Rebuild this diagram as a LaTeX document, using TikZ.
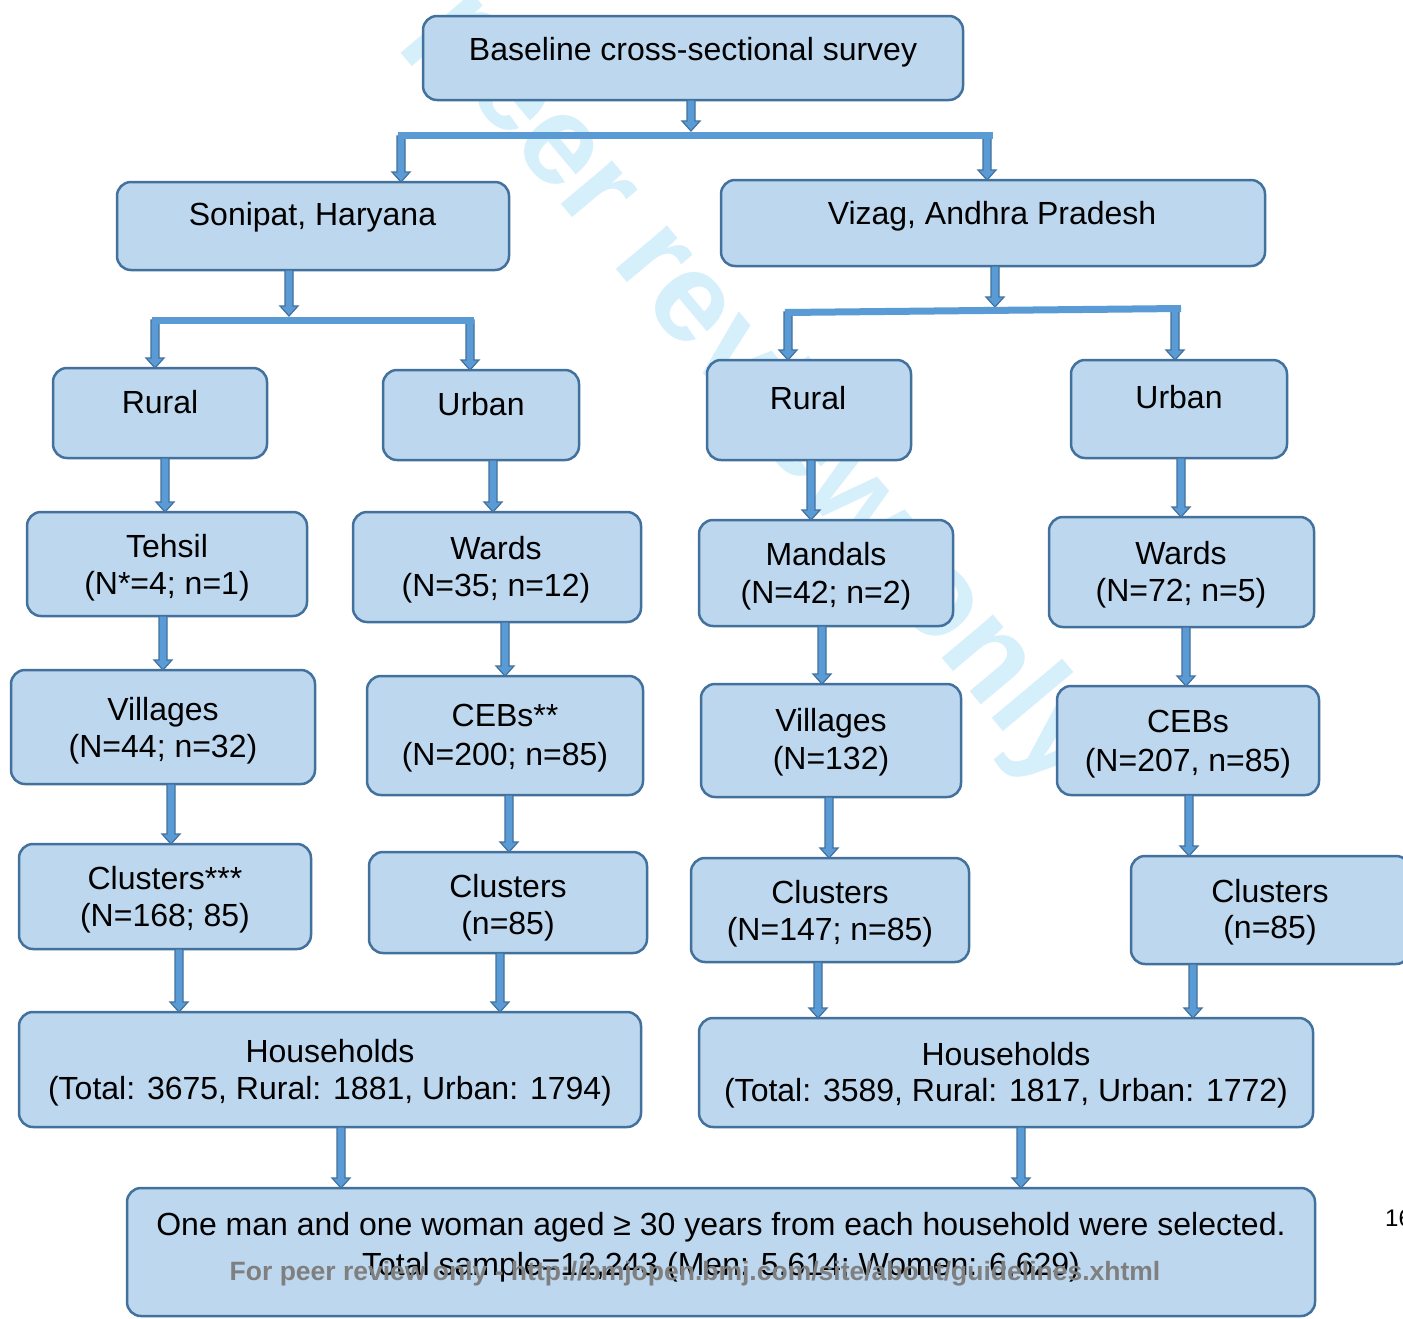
\documentclass[tikz,border=0pt]{standalone}
\usepackage{fontspec}
\setmainfont{Liberation Sans}
\usetikzlibrary{calc,fit}
\definecolor{boxfill}{HTML}{BDD7EE}
\definecolor{boxline}{HTML}{41719C}
\definecolor{arrowfill}{HTML}{5B9BD5}
\definecolor{wmblue}{HTML}{D5EFFB}
\definecolor{footgray}{HTML}{7F7F7F}
% rounded box spanning two corner points
\newcommand\mkbox[5]{\node[box, fit={(#2,#3)(#4,#5)}] (#1) {};}
\begin{document}
\begin{tikzpicture}[x=1pt,y=-1pt,
  box/.style={draw=boxline, fill=boxfill, line width=2.5pt, rounded corners=14pt, inner sep=0pt, outer sep=0pt},
  lbl/.style={anchor=base, inner sep=0pt, font=\fontsize{32}{38}\selectfont},
  bar/.style={draw=arrowfill, line width=7pt},
  blockarrow/.style={draw=boxline, fill=arrowfill, line width=1.2pt, line join=miter,
    to path={let \p1=(\tikztostart), \p2=(\tikztotarget) in
      ({\x1-4pt},\y1) -- ({\x1-4pt},{\y2+10pt}) -- ({\x1-9pt},{\y2+10pt}) -- (\x1,\y2)
      -- ({\x1+9pt},{\y2+10pt}) -- ({\x1+4pt},{\y2+10pt}) -- ({\x1+4pt},\y1) -- cycle}},
  wm/.style={text=wmblue, font=\bfseries\fontsize{127}{136}\selectfont, inner sep=0pt}
]
\fill[white] (0,0) rectangle (1403,1318);
\useasboundingbox (0,0) rectangle (1403,1318);

% diagonal watermark
\node[wm, rotate=-50] (wmark) at (683,298) {For peer review only};

% boxes
\mkbox{base}{423}{16}{963}{100}
\mkbox{sonipat}{117}{182}{509}{270}
\mkbox{vizag}{721}{180}{1265}{266}
\mkbox{ruralL}{53}{368}{267}{458}
\mkbox{urbanL}{383}{370}{579}{460}
\mkbox{ruralR}{707}{360}{911}{460}
\mkbox{urbanR}{1071}{360}{1287}{458}
\mkbox{tehsil}{27}{512}{307}{616}
\mkbox{wardsL}{353}{512}{641}{622}
\mkbox{mandals}{699}{520}{953}{626}
\mkbox{wardsR}{1049}{517}{1314}{627}
\mkbox{villL}{11}{670}{315}{784}
\mkbox{cebsL}{367}{676}{643}{795}
\mkbox{villR}{701}{684}{961}{797}
\mkbox{cebsR}{1057}{686}{1319}{795}
\mkbox{clusL}{19}{844}{311}{949}
\mkbox{clusLb}{369}{852}{647}{953}
\mkbox{clusR}{691}{858}{969}{962}
\mkbox{clusRb}{1131}{856}{1410}{964}
\mkbox{hhL}{19}{1012}{641}{1127}
\mkbox{hhR}{699}{1018}{1313}{1127}
\mkbox{sample}{127}{1188}{1315}{1316}

% branching bars
\coordinate (b1l) at (398,135.5);  \coordinate (b1r) at (993,135.5);
\coordinate (b2l) at (152,320);    \coordinate (b2r) at (474,320);
\coordinate (b3l) at (785,312.5);  \coordinate (b3r) at (1181,308.5);
\coordinate (b1in) at (691,131);   \coordinate (b1a) at (401,136); \coordinate (b1b) at (987,136);
\coordinate (b2in) at (289,316);   \coordinate (b2a) at (155,320); \coordinate (b2b) at (470,320);
\coordinate (b3in) at (995,307);   \coordinate (b3a) at (788,312); \coordinate (b3b) at (1175,309);

\draw[blockarrow] (base.south -| b1in) to (b1in);
\draw[blockarrow] (b1a) to (sonipat.north -| b1a);
\draw[blockarrow] (b1b) to (vizag.north -| b1b);
\draw[blockarrow] (sonipat.south -| b2in) to (b2in);
\draw[blockarrow] (b2a) to (ruralL.north -| b2a);
\draw[blockarrow] (b2b) to (urbanL.north -| b2b);
\draw[blockarrow] (vizag.south -| b3in) to (b3in);
\draw[blockarrow] (b3a) to (ruralR.north -| b3a);
\draw[blockarrow] (b3b) to (urbanR.north -| b3b);
\draw[bar] (b1l) -- (b1r);
\draw[bar] (b2l) -- (b2r);
\draw[bar] (b3l) -- (b3r);

% level arrows
\draw[blockarrow] (ruralL.south -| 165,0) to (tehsil.north -| 165,0);
\draw[blockarrow] (urbanL.south -| 493,0) to (wardsL.north -| 493,0);
\draw[blockarrow] (ruralR.south -| 811,0) to (mandals.north -| 811,0);
\draw[blockarrow] (urbanR.south -| 1181,0) to (wardsR.north -| 1181,0);
\draw[blockarrow] (tehsil.south -| 163,0) to (villL.north -| 163,0);
\draw[blockarrow] (wardsL.south -| 505,0) to (cebsL.north -| 505,0);
\draw[blockarrow] (mandals.south -| 822,0) to (villR.north -| 822,0);
\draw[blockarrow] (wardsR.south -| 1186,0) to (cebsR.north -| 1186,0);
\draw[blockarrow] (villL.south -| 171,0) to (clusL.north -| 171,0);
\draw[blockarrow] (cebsL.south -| 509,0) to (clusLb.north -| 509,0);
\draw[blockarrow] (villR.south -| 829,0) to (clusR.north -| 829,0);
\draw[blockarrow] (cebsR.south -| 1189,0) to (clusRb.north -| 1189,0);
\draw[blockarrow] (clusL.south -| 179,0) to (hhL.north -| 179,0);
\draw[blockarrow] (clusLb.south -| 500,0) to (hhL.north -| 500,0);
\draw[blockarrow] (clusR.south -| 818,0) to (hhR.north -| 818,0);
\draw[blockarrow] (clusRb.south -| 1193,0) to (hhR.north -| 1193,0);
\draw[blockarrow] (hhL.south -| 341,0) to (sample.north -| 341,0);
\draw[blockarrow] (hhR.south -| 1021,0) to (sample.north -| 1021,0);

% texts
\node[lbl] (t-base) at (693,60) {Baseline cross-sectional survey};
\node[lbl] (t-sonipat) at (312.5,225) {Sonipat, Haryana};
\node[lbl] (t-vizag) at (992,224) {Vizag, Andhra Pradesh};
\node[lbl] (t-ruralL) at (160,413) {Rural};
\node[lbl] (t-urbanL) at (481,415) {Urban};
\node[lbl] (t-ruralR) at (808,409) {Rural};
\node[lbl] (t-urbanR) at (1179,408) {Urban};
\node[lbl] (t-tehsil1) at (167,557) {Tehsil};
\node[lbl] (t-tehsil2) at (167,594) {(N*=4; n=1)};
\node[lbl] (t-wardsL1) at (496,559) {Wards};
\node[lbl] (t-wardsL2) at (496,596) {(N=35; n=12)};
\node[lbl] (t-mandals1) at (826,565) {Mandals};
\node[lbl] (t-mandals2) at (826,603) {(N=42; n=2)};
\node[lbl] (t-wardsR1) at (1181,564) {Wards};
\node[lbl] (t-wardsR2) at (1181,601) {(N=72; n=5)};
\node[lbl] (t-villL1) at (163,720) {Villages};
\node[lbl] (t-villL2) at (163,757) {(N=44; n=32)};
\node[lbl] (t-cebsL1) at (505,726) {CEBs**};
\node[lbl] (t-cebsL2) at (505,765) {(N=200; n=85)};
\node[lbl] (t-villR1) at (831,731) {Villages};
\node[lbl] (t-villR2) at (831,769) {(N=132)};
\node[lbl] (t-cebsR1) at (1188,732) {CEBs};
\node[lbl] (t-cebsR2) at (1188,771) {(N=207, n=85)};
\node[lbl] (t-clusL1) at (165,889) {Clusters***};
\node[lbl] (t-clusL2) at (165,926) {(N=168; 85)};
\node[lbl] (t-clusLb1) at (508,897) {Clusters};
\node[lbl] (t-clusLb2) at (508,934) {(n=85)};
\node[lbl] (t-clusR1) at (830,903) {Clusters};
\node[lbl] (t-clusR2) at (830,940) {(N=147; n=85)};
\node[lbl] (t-clusRb1) at (1270,902) {Clusters};
\node[lbl] (t-clusRb2) at (1270,938) {(n=85)};
\node[lbl] (t-hhL1) at (330,1062) {Households};
\node[lbl] (t-hhL2) at (330,1099) {(Total: 3675, Rural: 1881, Urban: 1794)};
\node[lbl] (t-hhR1) at (1006,1065) {Households};
\node[lbl] (t-hhR2) at (1006,1101) {(Total: 3589, Rural: 1817, Urban: 1772)};
\node[lbl] (t-sample1) at (721,1235) {One man and one woman aged ≥ 30 years from each household were selected.};
\node[lbl] (t-sample2) at (721,1275) {Total sample=12,243 (Men: 5,614; Women: 6,629)};

% page furniture
\node[anchor=base west, inner sep=0pt, font=\fontsize{24}{28}\selectfont] (pagenum) at (1385,1226) {16};
\node[anchor=base, inner sep=0pt, text=footgray, font=\bfseries\fontsize{26.5}{30}\selectfont] (footer) at (695,1280) {For peer review only - http://bmjopen.bmj.com/site/about/guidelines.xhtml};
\end{tikzpicture}
\end{document}
